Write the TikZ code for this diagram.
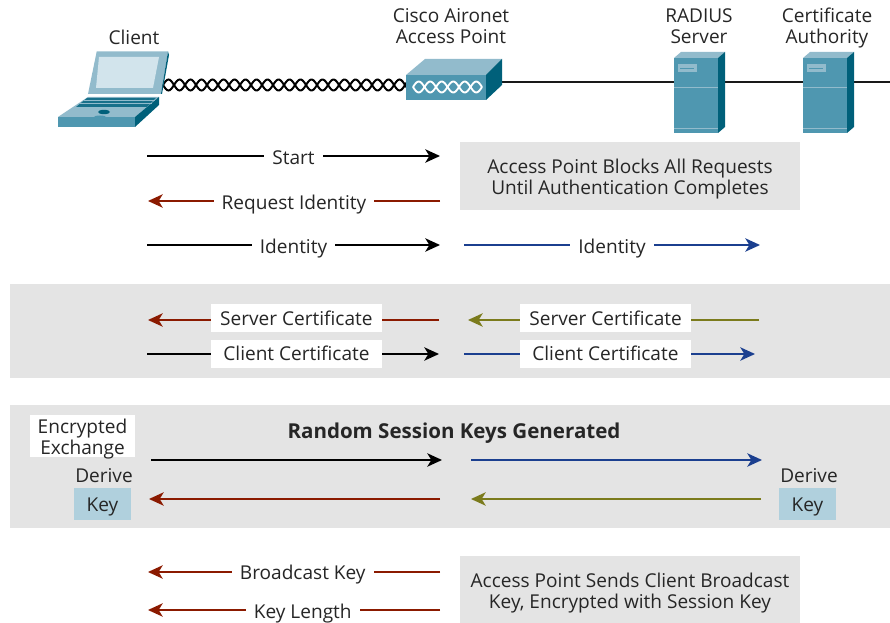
\documentclass[tikz,border=0pt]{standalone}
\usepackage{fontspec}
\setmainfont{Open Sans}
\usepackage{tikz}
\usetikzlibrary{arrows.meta, positioning}
\definecolor{bandgray}{HTML}{E4E4E4}
\definecolor{keyblue}{HTML}{B0D0DD}
\definecolor{devfront}{HTML}{4F97B0}
\definecolor{devtop}{HTML}{92BBCC}
\definecolor{devside}{HTML}{00607A}
\definecolor{devscreen}{HTML}{D2E4EC}
\definecolor{msgred}{HTML}{8B1A00}
\definecolor{msgblue}{HTML}{1B3F8F}
\definecolor{msgolive}{HTML}{7B7B1C}
\definecolor{inktext}{HTML}{262626}
\tikzset{
    serverbox/.pic={
        \fill[devfront] (0,0) rectangle (44,75);
        \fill[devtop] (0,0) -- (7,-6) -- (51,-6) -- (44,0) -- cycle;
        \fill[devside] (44,0) -- (51,-6) -- (51,69) -- (44,75) -- cycle;
        \fill[devtop] (3.5,6) rectangle (23,14);
        \draw[-, devfront, line width=0.6pt] (6,10) -- (20,10);
        \draw[-, devtop, line width=0.6pt] (0,29) -- (44,29);
        \draw[-, devtop, line width=0.6pt] (0,70) -- (44,70);
    }
}
\begin{document}
\begin{tikzpicture}[x=0.75pt, y=-0.75pt, ->, >={Stealth[length=11pt, width=10pt, inset=3pt]}, line width=1.4pt, font=\fontsize{14.3}{15.8}\selectfont, text=inktext]
    \tikzstyle{lbl} = [text=inktext, text centered, align=center, inner sep=0pt]
    \tikzstyle{msglbl} = [lbl, fill=white, inner xsep=6pt, text height=11pt, text depth=4pt, yshift=-3pt]
    \tikzstyle{certlbl} = [lbl, fill=white, minimum width=128pt, minimum height=21pt, text height=13pt, text depth=3pt]
    \tikzstyle{srvlbl} = [certlbl, yshift=1.5pt, text height=14pt, text depth=2pt]
    \tikzstyle{panel} = [lbl, fill=bandgray, minimum width=255pt, minimum height=51pt]
    \tikzstyle{keybox} = [lbl, fill=keyblue, minimum width=42.75pt, minimum height=24pt, text height=13pt, text depth=2pt]
    \useasboundingbox (0,0) rectangle (890,623);

    % grey bands
    \fill[bandgray] (10,284) rectangle (890,378);
    \fill[bandgray] (10,405) rectangle (890,528);

    % wire behind the devices
    \coordinate (wireA) at (500,82);
    \coordinate (wireB) at (890,82);
    \draw[-, black!90] (wireA) -- (wireB);
    \pic at (674,58) {serverbox};
    \pic at (803,58) {serverbox};

    % twisted cable
    \draw[-, black, line width=1.5pt, smooth] plot[domain=163:408, samples=180] (\x,{85+5.5*sin(16.36*(\x-163))});
    \draw[-, black, line width=1.5pt, smooth] plot[domain=163:408, samples=180] (\x,{85-5.5*sin(16.36*(\x-163))});

    % access point
    \fill[devfront] (406,75) rectangle (486,100);
    \fill[devtop] (406,75) -- (425,59) -- (502,59) -- (486,75) -- cycle;
    \fill[devside] (486,75) -- (502,59) -- (502,85) -- (486,100) -- cycle;
    \draw[-, white, line width=1.4pt, smooth] plot[domain=413:482, samples=60] (\x,{87+5.5*sin(15.65*(\x-413))});
    \draw[-, white, line width=1.4pt, smooth] plot[domain=413:482, samples=60] (\x,{87-5.5*sin(15.65*(\x-413))});

    % laptop
    \fill[devtop] (96.7,51.5) -- (168,51.5) -- (161,94) -- (88,94) -- cycle;
    \fill[devside] (168,51.5) -- (169,55) -- (162,94) -- (161,94) -- cycle;
    \fill[devscreen] (99,57) -- (159,57) -- (153,88) -- (96,88) -- cycle;
    \fill[devtop] (58,117) -- (88,97) -- (159,97) -- (135,117) -- cycle;
    \fill[devfront] (58,117) rectangle (135,127);
    \fill[devside] (135,117) -- (159,97) -- (159,105) -- (135,127) -- cycle;
    \fill[devside!70!devfront] (76,107) -- (87,98) -- (156,98) -- (147,107) -- cycle;
    \draw[-, devtop, line width=0.3pt] (80,103.5) -- (152,103.5);
    \draw[-, devtop, line width=0.3pt] (84,100.5) -- (155,100.5);
    \fill[devside] (104,112) ellipse (6 and 2.2);
    \fill[devfront] (100,117) ellipse (6 and 1.5);

    % device labels
    \node [lbl] at (134,37) (client) {Client};
    \node [lbl] at (451,29) (ap) {\strut Cisco Aironet\\\strut Access Point};
    \node [lbl] at (699,29) (radius) {\strut RADIUS\\\strut Server};
    \node [lbl] at (827,29) (ca) {\strut Certificate\\\strut Authority};

    % first exchange
    \node [panel] at (630,176) (blocksbox) {};
    \node [lbl] at (630,180) (blocks) {\strut Access Point Blocks All Requests\\\strut Until Authentication Completes};
    \coordinate (startL) at (147,156);
    \coordinate (startR) at (440,156);
    \draw (startL) -- node [msglbl] (start) {Start} (startR);
    \coordinate (reqL) at (148,201);
    \coordinate (reqR) at (440,201);
    \draw[msgred] (reqR) -- node [msglbl] (req) {Request Identity} (reqL);
    \coordinate (idL) at (147,245);
    \coordinate (idR) at (440,245);
    \draw (idL) -- node [msglbl] (id) {Identity} (idR);
    \coordinate (idfwdL) at (464,245);
    \coordinate (idfwdR) at (760,245);
    \draw[msgblue] (idfwdL) -- node [msglbl] (idfwd) {Identity} (idfwdR);

    % certificates
    \coordinate (scertL) at (148,320);
    \coordinate (scertR) at (439,320);
    \draw[msgred] (scertR) -- node [srvlbl, pos=0.49] (scert) {Server Certificate} (scertL);
    \coordinate (scertfwdL) at (468,320);
    \coordinate (scertfwdR) at (759,320);
    \draw[msgolive] (scertfwdR) -- node [srvlbl, pos=0.527] (scertfwd) {Server Certificate} (scertfwdL);
    \coordinate (ccertL) at (147,354);
    \coordinate (ccertR) at (439,354);
    \draw (ccertL) -- node [certlbl, pos=0.512] (ccert) {Client Certificate} (ccertR);
    \coordinate (ccertfwdL) at (464,354);
    \coordinate (ccertfwdR) at (755,354);
    \draw[msgblue] (ccertfwdL) -- node [certlbl, pos=0.486] (ccertfwd) {Client Certificate} (ccertfwdR);

    % session keys
    \node [lbl, fill=white, minimum width=78.75pt, minimum height=31.5pt] at (82.5,436) (encrbox) {};
    \node [lbl] at (82.5,439.5) (encr) {\strut Encrypted\\\strut Exchange};
    \node [lbl] at (454,433) (random) {\fontsize{15.4}{17}\selectfont\bfseries Random Session Keys Generated};
    \node [lbl] at (104,476) (deriveL) {Derive};
    \node [keybox] at (102.5,504) (keyL) {Key};
    \node [lbl] at (809,476) (deriveR) {Derive};
    \node [keybox] at (807.5,504) (keyR) {Key};
    \coordinate (encA) at (151,460);
    \coordinate (encB) at (442,460);
    \draw (encA) -- (encB);
    \coordinate (encC) at (471,460);
    \coordinate (encD) at (762,460);
    \draw[msgblue] (encC) -- (encD);
    \coordinate (retA) at (149,499);
    \coordinate (retB) at (440,499);
    \draw[msgred] (retB) -- (retA);
    \coordinate (retC) at (471,499);
    \coordinate (retD) at (761,499);
    \draw[msgolive] (retD) -- (retC);

    % broadcast key
    \node [panel] at (630,590) (sendsbox) {};
    \node [lbl] at (630,594) (sends) {\strut Access Point Sends Client Broadcast\\\strut Key, Encrypted with Session Key};
    \coordinate (bkeyL) at (148,572);
    \coordinate (bkeyR) at (440,572);
    \draw[msgred] (bkeyR) -- node [msglbl, pos=0.47, yshift=0.8pt] (bkey) {Broadcast Key} (bkeyL);
    \coordinate (klenL) at (148,610);
    \coordinate (klenR) at (440,610);
    \draw[msgred] (klenR) -- node [msglbl, pos=0.47] (klen) {Key Length} (klenL);
\end{tikzpicture}
\end{document}
